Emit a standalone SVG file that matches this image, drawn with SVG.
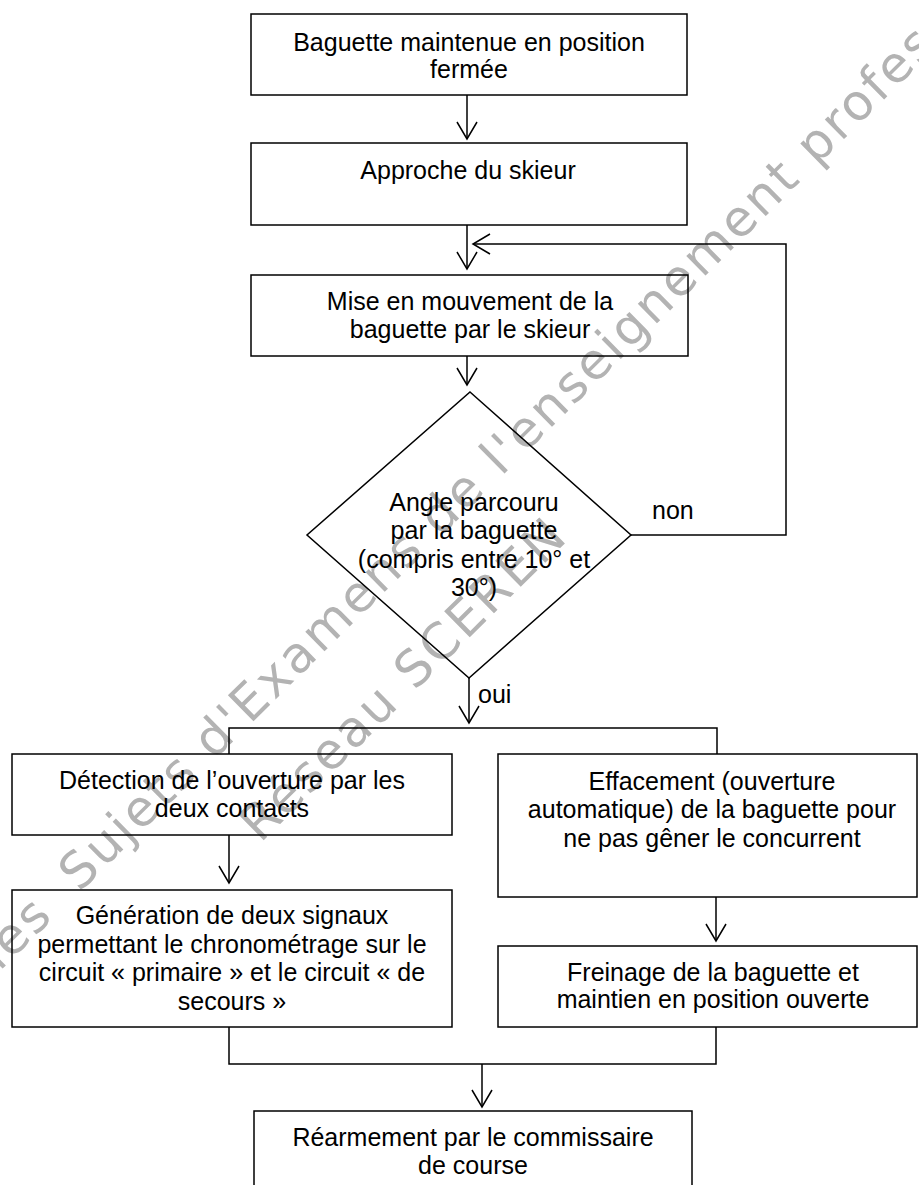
<svg xmlns="http://www.w3.org/2000/svg" width="919" height="1185" viewBox="0 0 919 1185">
<style>
.box{fill:none;stroke:#000;stroke-width:1.5}
.ln{fill:none;stroke:#000;stroke-width:1.5}
.t{font-family:"Liberation Sans",Arial,sans-serif;font-size:25px;fill:#000;text-anchor:middle}
.lbl{font-family:"Liberation Sans",Arial,sans-serif;font-size:25px;fill:#000}
.wm{font-family:"DejaVu Sans",sans-serif;font-size:50px;letter-spacing:2.7px;fill:#b3b3b3}
</style>
<defs>
<marker id="arr" markerUnits="userSpaceOnUse" markerWidth="24" markerHeight="24" refX="20" refY="12" orient="auto" overflow="visible">
<path d="M3,2 L20,12 L3,22" fill="none" stroke="#000" stroke-width="1.5"/>
</marker>
</defs>
<rect width="919" height="1185" fill="#fff"/>

<g id="watermark" transform="translate(79,868) rotate(-44.6)">
<text class="wm" y="18"><tspan x="-384">Annales des </tspan><tspan x="-17">Sujets d'Examens de l'enseignement professionnel</tspan></text>
<text class="wm" x="146" y="110">Réseau SCEREN</text>
</g>

<g id="connectors">
<line class="ln" x1="467" y1="95" x2="467" y2="139" marker-end="url(#arr)"/>
<line class="ln" x1="467" y1="225" x2="467" y2="269" marker-end="url(#arr)"/>
<line class="ln" x1="467" y1="356" x2="467" y2="385" marker-end="url(#arr)"/>
<polyline class="ln" points="631,535 786,535 786,244 473,244" marker-end="url(#arr)"/>
<line class="ln" x1="469" y1="678" x2="469" y2="723" marker-end="url(#arr)"/>
<polyline class="ln" points="229,754 229,728 717,728 717,754"/>
<line class="ln" x1="229" y1="835" x2="229" y2="883" marker-end="url(#arr)"/>
<line class="ln" x1="716" y1="897" x2="716" y2="941" marker-end="url(#arr)"/>
<polyline class="ln" points="229,1027 229,1064 716,1064 716,1027"/>
<line class="ln" x1="482" y1="1064" x2="482" y2="1107" marker-end="url(#arr)"/>
<text class="lbl" x="652" y="519">non</text>
<text class="lbl" x="478" y="703">oui</text>
</g>

<g id="n1">
<rect class="box" x="251" y="14" width="436" height="81"/>
<text class="t" x="469" y="51">Baguette maintenue en position</text>
<text class="t" x="469" y="78">fermée</text>
</g>
<g id="n2">
<rect class="box" x="251" y="143" width="436" height="82"/>
<text class="t" x="468" y="179">Approche du skieur</text>
</g>
<g id="n3">
<rect class="box" x="251" y="275" width="437" height="81"/>
<text class="t" x="470" y="310">Mise en mouvement de la</text>
<text class="t" x="470" y="338">baguette par le skieur</text>
</g>
<g id="d1">
<polygon class="box" points="470,392 631,535 469,678 307,535"/>
<text class="t" x="474" y="511">Angle parcouru</text>
<text class="t" x="474" y="539">par la baguette</text>
<text class="t" x="474" y="568">(compris entre 10° et</text>
<text class="t" x="474" y="596">30°)</text>
</g>
<g id="n4">
<rect class="box" x="12" y="754" width="440" height="81"/>
<text class="t" x="232" y="789">Détection de l’ouverture par les</text>
<text class="t" x="232" y="817">deux contacts</text>
</g>
<g id="n5">
<rect class="box" x="498" y="754" width="419" height="143"/>
<text class="t" x="712" y="790">Effacement (ouverture</text>
<text class="t" x="712" y="818">automatique) de la baguette pour</text>
<text class="t" x="712" y="847">ne pas gêner le concurrent</text>
</g>
<g id="n6">
<rect class="box" x="12" y="890" width="440" height="137"/>
<text class="t" x="232" y="924">Génération de deux signaux</text>
<text class="t" x="232" y="953">permettant le chronométrage sur le</text>
<text class="t" x="232" y="981">circuit « primaire » et le circuit « de</text>
<text class="t" x="232" y="1010">secours »</text>
</g>
<g id="n7">
<rect class="box" x="498" y="946" width="419" height="81"/>
<text class="t" x="713" y="981">Freinage de la baguette et</text>
<text class="t" x="713" y="1008">maintien en position ouverte</text>
</g>
<g id="n8">
<rect class="box" x="254" y="1111" width="438" height="100"/>
<text class="t" x="473" y="1146">Réarmement par le commissaire</text>
<text class="t" x="473" y="1174">de course</text>
</g>
</svg>
